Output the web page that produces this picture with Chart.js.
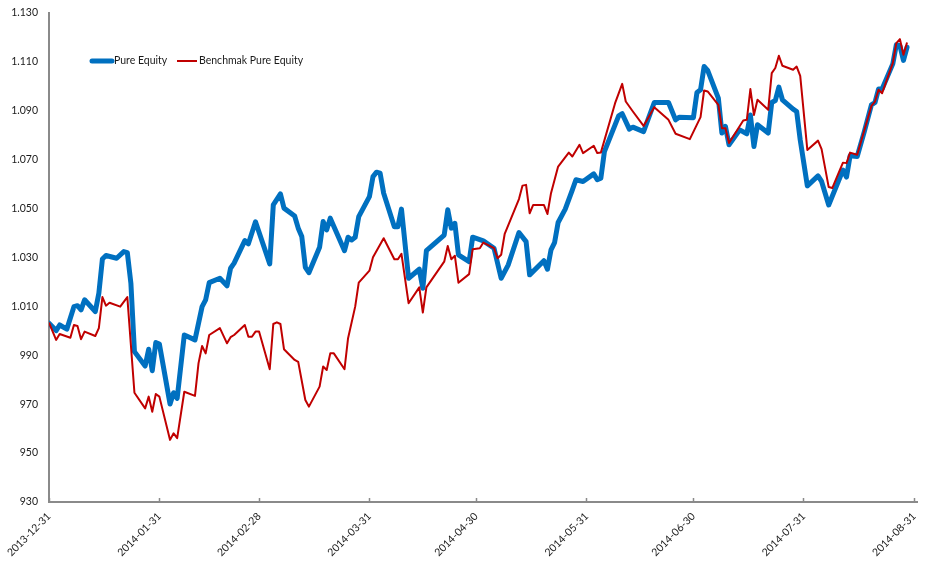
<!DOCTYPE html>
<html><head><meta charset="utf-8">
<script src="https://cdn.jsdelivr.net/npm/chart.js@4.4.1/dist/chart.umd.min.js"></script>
<style>html,body{margin:0;padding:0;background:#fff;}#wrap{width:930px;height:569px;position:relative;}</style>
</head><body><div id="wrap"><canvas id="c" width="930" height="569"></canvas></div>
<script>
const seriesNames = ['Pure Equity', 'Benchmak Pure Equity'];
const xTickLabels = ['2013-12-31','2014-01-31','2014-02-28','2014-03-31','2014-04-30','2014-05-31','2014-06-30','2014-07-31','2014-08-31'];
const yTickValues = [930,950,970,990,1010,1030,1050,1070,1090,1110,1130];

const pureEquityDates = ['2013-12-31','2014-01-02','2014-01-03','2014-01-05','2014-01-07','2014-01-08','2014-01-09','2014-01-10','2014-01-13','2014-01-14','2014-01-15','2014-01-16','2014-01-19','2014-01-21','2014-01-22','2014-01-23','2014-01-24','2014-01-27','2014-01-28','2014-01-29','2014-01-30','2014-01-31','2014-02-03','2014-02-04','2014-02-05','2014-02-07','2014-02-10','2014-02-12','2014-02-13','2014-02-14','2014-02-17','2014-02-19','2014-02-20','2014-02-21','2014-02-24','2014-02-25','2014-02-27','2014-03-03','2014-03-04','2014-03-06','2014-03-07','2014-03-10','2014-03-11','2014-03-12','2014-03-13','2014-03-14','2014-03-17','2014-03-18','2014-03-19','2014-03-20','2014-03-24','2014-03-25','2014-03-26','2014-03-27','2014-03-28','2014-03-31','2014-04-01','2014-04-02','2014-04-03','2014-04-04','2014-04-07','2014-04-08','2014-04-09','2014-04-11','2014-04-14','2014-04-15','2014-04-16','2014-04-21','2014-04-22','2014-04-23','2014-04-24','2014-04-25','2014-04-28','2014-04-29','2014-05-02','2014-05-05','2014-05-07','2014-05-09','2014-05-12','2014-05-14','2014-05-15','2014-05-19','2014-05-20','2014-05-21','2014-05-22','2014-05-23','2014-05-25','2014-05-27','2014-05-28','2014-05-30','2014-06-02','2014-06-03','2014-06-04','2014-06-05','2014-06-09','2014-06-10','2014-06-12','2014-06-13','2014-06-16','2014-06-19','2014-06-23','2014-06-25','2014-06-26','2014-06-30','2014-07-01','2014-07-02','2014-07-03','2014-07-04','2014-07-07','2014-07-08','2014-07-09','2014-07-10','2014-07-13','2014-07-15','2014-07-16','2014-07-17','2014-07-18','2014-07-21','2014-07-22','2014-07-23','2014-07-24','2014-07-25','2014-07-28','2014-07-29','2014-07-30','2014-08-01','2014-08-04','2014-08-05','2014-08-07','2014-08-11','2014-08-12','2014-08-13','2014-08-15','2014-08-17','2014-08-19','2014-08-20','2014-08-21','2014-08-22','2014-08-25','2014-08-26','2014-08-27','2014-08-28','2014-08-29'];
const pureEquityValues = [1003.1,1000.1,1002.4,1000.7,1009.9,1010.3,1008.6,1012.7,1007.9,1015.4,1029.4,1030.8,1029.7,1032.4,1032.0,1019.5,991.5,985.6,992.5,983.7,995.2,994.6,970.1,974.7,972.4,998.3,996.3,1009.9,1012.7,1019.7,1021.5,1018.4,1025.6,1027.7,1036.9,1035.6,1044.6,1027.4,1051.5,1056.0,1050.2,1047.0,1042.0,1038.6,1026.0,1023.8,1034.2,1044.7,1041.3,1046.1,1032.8,1038.3,1037.2,1038.3,1046.7,1054.9,1063.1,1064.9,1064.5,1056.3,1042.6,1042.6,1049.8,1021.5,1025.2,1017.4,1032.8,1039.2,1049.5,1042.0,1044.0,1031.1,1028.3,1038.3,1036.8,1033.8,1021.5,1027.0,1040.2,1036.5,1022.9,1028.7,1025.2,1033.1,1036.1,1044.3,1049.8,1057.7,1061.8,1061.1,1064.2,1061.8,1062.4,1073.3,1087.9,1088.8,1082.5,1083.3,1081.5,1093.4,1093.4,1086.3,1087.4,1087.2,1097.5,1098.6,1108.1,1106.5,1095.2,1080.9,1083.6,1076.1,1082.2,1080.6,1088.3,1075.4,1084.3,1080.9,1093.4,1094.2,1099.7,1094.5,1090.7,1089.7,1078.1,1059.3,1063.4,1061.1,1051.5,1065.8,1062.9,1071.6,1071.3,1081.5,1092.4,1093.4,1098.9,1098.9,1109.2,1117.0,1116.6,1110.6,1116.0];

const benchmarkDates = ['2013-12-31','2014-01-02','2014-01-03','2014-01-06','2014-01-07','2014-01-08','2014-01-09','2014-01-10','2014-01-13','2014-01-14','2014-01-15','2014-01-16','2014-01-17','2014-01-20','2014-01-22','2014-01-24','2014-01-27','2014-01-28','2014-01-29','2014-01-30','2014-01-31','2014-02-03','2014-02-04','2014-02-05','2014-02-07','2014-02-10','2014-02-11','2014-02-12','2014-02-13','2014-02-14','2014-02-17','2014-02-19','2014-02-20','2014-02-21','2014-02-24','2014-02-25','2014-02-26','2014-02-27','2014-02-28','2014-03-03','2014-03-04','2014-03-05','2014-03-06','2014-03-07','2014-03-10','2014-03-11','2014-03-13','2014-03-14','2014-03-17','2014-03-18','2014-03-19','2014-03-20','2014-03-21','2014-03-24','2014-03-25','2014-03-27','2014-03-28','2014-03-31','2014-04-01','2014-04-04','2014-04-07','2014-04-08','2014-04-09','2014-04-11','2014-04-14','2014-04-15','2014-04-16','2014-04-21','2014-04-22','2014-04-23','2014-04-24','2014-04-25','2014-04-28','2014-04-29','2014-05-01','2014-05-02','2014-05-05','2014-05-06','2014-05-07','2014-05-08','2014-05-12','2014-05-13','2014-05-14','2014-05-15','2014-05-16','2014-05-19','2014-05-20','2014-05-21','2014-05-23','2014-05-26','2014-05-27','2014-05-29','2014-05-30','2014-06-02','2014-06-03','2014-06-04','2014-06-08','2014-06-10','2014-06-11','2014-06-13','2014-06-16','2014-06-19','2014-06-23','2014-06-25','2014-06-29','2014-07-02','2014-07-03','2014-07-04','2014-07-07','2014-07-08','2014-07-09','2014-07-10','2014-07-14','2014-07-15','2014-07-16','2014-07-17','2014-07-18','2014-07-21','2014-07-22','2014-07-23','2014-07-24','2014-07-25','2014-07-28','2014-07-29','2014-07-30','2014-08-01','2014-08-04','2014-08-05','2014-08-07','2014-08-08','2014-08-11','2014-08-12','2014-08-13','2014-08-15','2014-08-19','2014-08-20','2014-08-21','2014-08-22','2014-08-25','2014-08-26','2014-08-27','2014-08-28','2014-08-29'];
const benchmarkValues = [1003.4,996.3,998.7,997.2,1002.4,1002.0,996.6,999.7,997.9,1001.1,1013.8,1010.3,1011.5,1009.9,1013.8,974.7,968.3,973.1,966.9,974.2,973.1,955.4,958.1,956.1,975.1,973.4,986.8,993.8,990.8,998.3,1001.1,994.9,997.4,998.3,1002.4,997.6,997.6,999.7,999.7,984.3,1002.8,1003.5,1002.8,992.5,988.1,987.3,971.7,969.0,977.2,985.4,984.0,990.8,990.8,984.3,997.0,1009.9,1019.7,1024.6,1030.1,1037.9,1029.3,1029.3,1031.5,1011.3,1017.8,1007.5,1017.8,1028.3,1034.7,1029.3,1030.7,1019.7,1023.2,1033.4,1033.8,1036.1,1033.8,1029.7,1031.1,1039.7,1053.9,1059.4,1059.7,1048.1,1051.5,1051.5,1047.8,1056.3,1067.2,1072.9,1071.3,1076.1,1072.7,1075.7,1072.7,1072.9,1093.1,1101.0,1093.8,1089.7,1083.8,1091.5,1086.3,1080.6,1078.4,1087.4,1098.3,1097.9,1092.4,1082.9,1082.9,1076.8,1086.0,1086.3,1098.9,1088.3,1094.5,1090.4,1105.4,1107.5,1112.5,1108.4,1106.8,1108.1,1104.3,1074.0,1077.8,1074.3,1058.8,1058.4,1068.8,1068.6,1072.9,1072.0,1092.0,1093.8,1098.6,1097.2,1109.5,1117.7,1119.3,1112.9,1117.9];

const BASE = Date.UTC(2013, 11, 31);
function dayOf(s) { const p = s.split('-').map(Number); return (Date.UTC(p[0], p[1]-1, p[2]) - BASE) / 86400000; }
function dateOf(d) { return new Date(BASE + d * 86400000).toISOString().slice(0, 10); }
function fmtThousands(v) { return v >= 1000 ? Math.floor(v/1000) + '.' + String(v % 1000).padStart(3, '0') : String(v); }
function pts(dates, vals) { return dates.map((d, i) => ({x: dayOf(d), y: vals[i]})); }

const FONT = "Lato, 'Liberation Sans Narrow', sans-serif";
const AXIS = '#8a8a8a';
const BLUE = '#0070C0', RED = '#C00000';

const legendPlugin = {
  id: 'fixedLegend',
  afterDraw(chart) {
    const ctx = chart.ctx, a = chart.chartArea;
    const y = a.top + 48;
    const items = [
      {x: a.left + 41, color: BLUE, w: 5, text: seriesNames[0]},
      {x: a.left + 126, color: RED, w: 2, text: seriesNames[1]}
    ];
    ctx.save();
    ctx.font = '10.5px ' + FONT;
    ctx.textBaseline = 'middle';
    ctx.fillStyle = '#1a1a1a';
    items.forEach(it => {
      ctx.beginPath();
      ctx.strokeStyle = it.color; ctx.lineWidth = it.w; ctx.lineCap = it.w > 3 ? 'round' : 'butt';
      ctx.moveTo(it.x + 2, y); ctx.lineTo(it.x + 22, y); ctx.stroke();
      ctx.fillText(it.text, it.x + 24, y);
    });
    ctx.restore();
  }
};

new Chart(document.getElementById('c'), {
  type: 'line',
  data: {
    datasets: [
      {label: seriesNames[0], data: pts(pureEquityDates, pureEquityValues), borderColor: BLUE, borderWidth: 5, pointRadius: 0, tension: 0, borderJoinStyle: 'round', borderCapStyle: 'round', fill: false, order: 1},
      {label: seriesNames[1], data: pts(benchmarkDates, benchmarkValues), borderColor: RED, borderWidth: 2, pointRadius: 0, tension: 0, borderJoinStyle: 'round', fill: false, order: 0}
    ]
  },
  options: {
    responsive: false, animation: false, devicePixelRatio: 1,
    layout: {padding: {top: 13, right: 13, left: 0, bottom: 0}},
    plugins: {legend: {display: false}, tooltip: {enabled: false}},
    scales: {
      x: {
        type: 'linear', min: 0, max: 243.8,
        afterBuildTicks: s => { s.ticks = xTickLabels.map(t => ({value: dayOf(t)})); },
        afterFit: s => { s.height = 67; s.paddingLeft = 0; s.paddingRight = 0; },
        grid: {drawOnChartArea: false, drawTicks: true, tickLength: -4, color: AXIS, tickWidth: 1.5},
        border: {display: true, color: AXIS, width: 2},
        ticks: {autoSkip: false, maxRotation: 45, minRotation: 45, padding: 12, color: '#1a1a1a', font: {family: FONT, size: 10.5}, callback: v => dateOf(v)}
      },
      y: {
        type: 'linear', min: 930, max: 1130,
        afterBuildTicks: s => { s.ticks = yTickValues.map(v => ({value: v})); },
        afterFit: s => { s.width = 49; s.paddingTop = 0; s.paddingBottom = 0; },
        grid: {drawOnChartArea: false, drawTicks: false},
        border: {display: true, color: AXIS, width: 2},
        ticks: {padding: 11, color: '#1a1a1a', font: {family: FONT, size: 10.5}, callback: v => fmtThousands(v)}
      }
    }
  },
  plugins: [legendPlugin]
});
</script></body></html>
